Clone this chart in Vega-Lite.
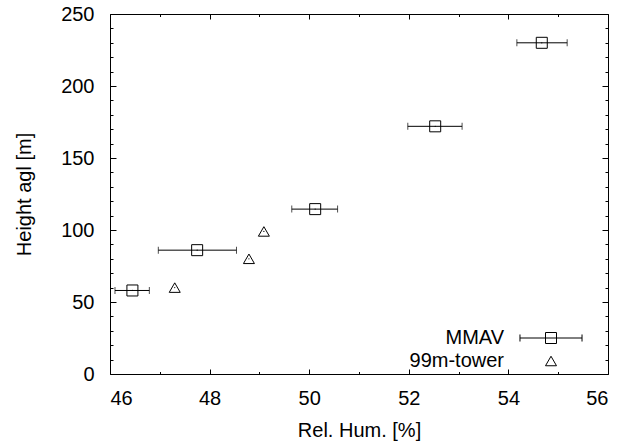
{
  "$schema": "https://vega.github.io/schema/vega-lite/v6.json",
  "width": 498,
  "height": 360,
  "autosize": {"type": "none"},
  "padding": {"left": 110, "top": 14, "right": 30, "bottom": 69},
  "background": "white",
  "data": {
    "values": [
      {"series": "MMAV", "h": 58, "rh": 46.45, "lo": 46.1, "hi": 46.79},
      {"series": "MMAV", "h": 86, "rh": 47.75, "lo": 46.97, "hi": 48.54},
      {"series": "MMAV", "h": 114.5, "rh": 50.12, "lo": 49.65, "hi": 50.57},
      {"series": "MMAV", "h": 172, "rh": 52.53, "lo": 51.98, "hi": 53.07},
      {"series": "MMAV", "h": 230, "rh": 54.67, "lo": 54.17, "hi": 55.18},
      {"series": "99m-tower", "h": 60, "rh": 47.3},
      {"series": "99m-tower", "h": 80, "rh": 48.79},
      {"series": "99m-tower", "h": 99, "rh": 49.09}
    ]
  },
  "layer": [
    {
      "transform": [{"filter": "datum.series === 'MMAV'"}],
      "mark": {"type": "rule", "color": "black", "strokeWidth": 1},
      "encoding": {
        "x": {
          "field": "lo", "type": "quantitative",
          "scale": {"domain": [46, 56], "nice": false, "zero": false},
          "axis": {
            "orient": "bottom", "values": [46, 48, 50, 52, 54, 56],
            "tickSize": -5, "labelPadding": 19.5,
            "title": "Rel. Hum. [%]", "titleX": 249, "titleY": 62,
            "titleBaseline": "alphabetic", "titleAlign": "center"
          }
        },
        "x2": {"field": "hi"},
        "y": {
          "field": "h", "type": "quantitative",
          "scale": {"domain": [0, 250], "nice": false, "zero": false},
          "axis": {
            "orient": "left", "values": [0, 50, 100, 150, 200, 250],
            "tickSize": -6, "labelPadding": 22,
            "title": "Height agl [m]", "titleX": -80, "titleY": 180,
            "titleAngle": -90, "titleBaseline": "alphabetic", "titleAlign": "center"
          }
        }
      }
    },
    {
      "transform": [{"filter": "datum.series === 'MMAV'"}],
      "mark": {"type": "tick", "orient": "vertical", "color": "black", "size": 7, "thickness": 1},
      "encoding": {
        "x": {
          "field": "lo", "type": "quantitative",
          "scale": {"domain": [46, 56], "nice": false, "zero": false},
          "axis": {"orient": "bottom", "values": [47, 49, 51, 53, 55], "tickSize": -2.5, "labels": false, "title": null}
        },
        "y": {
          "field": "h", "type": "quantitative",
          "scale": {"domain": [0, 250], "nice": false, "zero": false},
          "axis": {
            "orient": "left",
            "values": [10, 20, 30, 40, 60, 70, 80, 90, 110, 120, 130, 140, 160, 170, 180, 190, 210, 220, 230, 240],
            "tickSize": -3, "labels": false, "title": null
          }
        }
      }
    },
    {
      "transform": [{"filter": "datum.series === 'MMAV'"}],
      "mark": {"type": "tick", "orient": "vertical", "color": "black", "size": 7, "thickness": 1},
      "encoding": {
        "x": {
          "field": "hi", "type": "quantitative",
          "scale": {"domain": [46, 56], "nice": false, "zero": false},
          "axis": {"orient": "top", "values": [46, 48, 50, 52, 54, 56], "tickSize": -5, "labels": false, "title": null}
        },
        "y": {
          "field": "h", "type": "quantitative",
          "scale": {"domain": [0, 250], "nice": false, "zero": false},
          "axis": {"orient": "right", "values": [0, 50, 100, 150, 200, 250], "tickSize": -6, "labels": false, "title": null}
        }
      }
    },
    {
      "transform": [{"filter": "datum.series === '99m-tower'"}],
      "mark": {"type": "point", "filled": false, "color": "black", "size": 121, "strokeWidth": 1, "opacity": 1},
      "encoding": {
        "x": {
          "field": "rh", "type": "quantitative",
          "scale": {"domain": [46, 56], "nice": false, "zero": false},
          "axis": {"orient": "top", "values": [47, 49, 51, 53, 55], "tickSize": -2.5, "labels": false, "title": null}
        },
        "y": {
          "field": "h", "type": "quantitative",
          "scale": {"domain": [0, 250], "nice": false, "zero": false},
          "axis": {
            "orient": "right",
            "values": [10, 20, 30, 40, 60, 70, 80, 90, 110, 120, 130, 140, 160, 170, 180, 190, 210, 220, 230, 240],
            "tickSize": -3, "labels": false, "title": null
          }
        },
        "shape": {
          "field": "series", "type": "nominal",
          "scale": {
            "domain": ["MMAV", "99m-tower"],
            "range": ["M-5.64,0L5.64,0M-5.64,-0.64L-5.64,0.64M5.64,-0.64L5.64,0.64M-1,-1L1,-1L1,1L-1,1Z", "triangle-up"]
          },
          "legend": {
            "title": null, "orient": "none", "legendX": 431, "legendY": 314,
            "padding": 0, "rowPadding": 3,
            "labelAlign": "right", "labelOffset": -57,
            "symbolSize": 121, "symbolStrokeWidth": 1, "symbolStrokeColor": "black",
            "labelFont": "Liberation Sans", "labelFontSize": 20, "labelColor": "black"
          }
        }
      }
    },
    {
      "transform": [{"filter": "datum.series === 'MMAV'"}],
      "mark": {"type": "point", "shape": "square", "filled": false, "color": "black", "size": 121, "strokeWidth": 1, "opacity": 1},
      "encoding": {
        "x": {"field": "rh", "type": "quantitative", "scale": {"domain": [46, 56], "nice": false, "zero": false}, "axis": null},
        "y": {"field": "h", "type": "quantitative", "scale": {"domain": [0, 250], "nice": false, "zero": false}, "axis": null}
      }
    },
    {
      "mark": {"type": "circle", "color": "black", "size": 1.5, "opacity": 1},
      "encoding": {
        "x": {"field": "rh", "type": "quantitative", "scale": {"domain": [46, 56], "nice": false, "zero": false}, "axis": null},
        "y": {"field": "h", "type": "quantitative", "scale": {"domain": [0, 250], "nice": false, "zero": false}, "axis": null}
      }
    }
  ],
  "resolve": {"axis": {"x": "independent", "y": "independent"}},
  "config": {
    "view": {"stroke": "black", "strokeWidth": 1},
    "axis": {
      "domain": false,
      "grid": false,
      "tickColor": "black",
      "tickWidth": 1,
      "labelFont": "Liberation Sans",
      "labelFontSize": 20,
      "labelColor": "black",
      "titleFont": "Liberation Sans",
      "titleFontSize": 20,
      "titleFontWeight": "normal",
      "titleColor": "black"
    }
  }
}
